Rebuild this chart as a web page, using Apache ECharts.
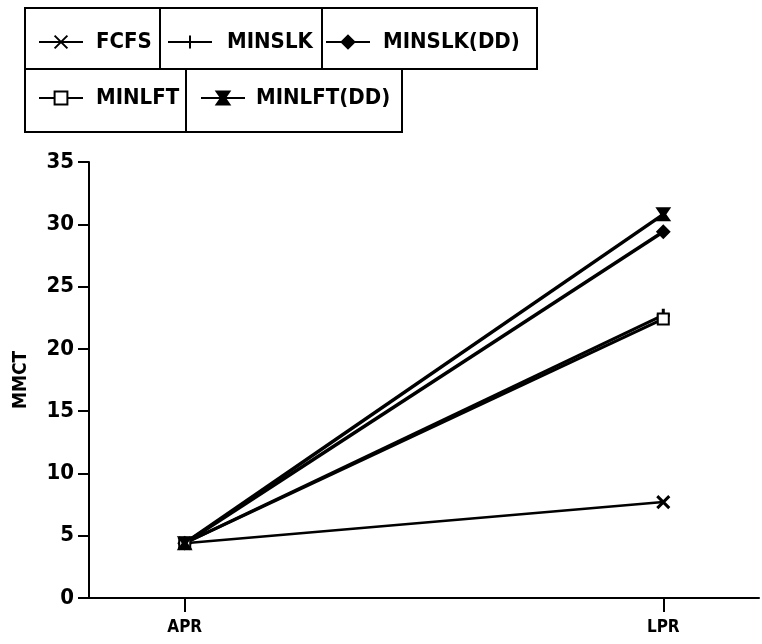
<!DOCTYPE html>
<html><head><meta charset="utf-8">
<script src="https://cdn.jsdelivr.net/npm/echarts@6/dist/echarts.min.js"></script>
<style>html,body{margin:0;padding:0;background:#fff}#c{width:762px;height:644px}</style>
</head><body><div id="c"></div>
<script>
const categories = ['APR', 'LPR'];
const seriesNames = ['FCFS', 'MINSLK', 'MINSLK(DD)', 'MINLFT', 'MINLFT(DD)'];
const FCFS = [4.4, 7.7];
const MINSLK = [4.4, 22.7];
const MINSLK_DD = [4.4, 29.4];
const MINLFT = [4.4, 22.4];
const MINLFT_DD = [4.4, 30.8];
const yTicks = [0, 5, 10, 15, 20, 25, 30, 35];
const yTitle = 'MMCT';

const FONT = "'DejaVu Sans Condensed', 'Liberation Sans Narrow', sans-serif";
const values = [FCFS, MINSLK, MINSLK_DD, MINLFT, MINLFT_DD];
const symbols = [
  'path://M0,0 L10,10 M10,0 L0,10',
  'path://M5,0 L5,10 M0,5 L10,5',
  'diamond',
  'emptyRect',
  'path://M0,0 L10,0 L6.5,5 L10,10 L0,10 L3.5,5 Z'
];
const symSizes = [12, 13, 12, 11, 12];
const lineWidths = [2.5, 3, 3.5, 3, 3.5];

const series = seriesNames.map((name, i) => ({
  name: name,
  type: 'line',
  data: values[i].map((v, j) => [j, v]),
  symbol: symbols[i],
  symbolSize: symSizes[i],
  showAllSymbol: true,
  lineStyle: { color: '#000', width: lineWidths[i] },
  itemStyle: { color: '#000', borderColor: '#000', borderWidth: (i === 0 || i === 1) ? 3 : 2 },
  emphasis: { disabled: true },
  animation: false
}));

const legendPos = [
  { left: 38, top: 42, gap: 8 },
  { left: 167, top: 42, gap: 10 },
  { left: 325, top: 42, gap: 8 },
  { left: 38, top: 98, gap: 8 },
  { left: 200, top: 98, gap: 6 }
];
const legends = seriesNames.map((name, i) => ({
  data: [name],
  left: legendPos[i].left,
  top: legendPos[i].top - 14,
  padding: 0,
  itemWidth: 44,
  itemHeight: 16,
  selectedMode: false,
  textStyle: { fontFamily: FONT, fontWeight: 'bold', fontSize: 22, color: '#000', padding: [0, 0, 0, legendPos[i].gap], lineHeight: 28 },
  lineStyle: { width: 2 }
}));

const boxes = [
  [25, 8, 135, 61], [160, 8, 162, 61], [322, 8, 215, 61],
  [25, 69, 161, 63], [186, 69, 216, 63]
].map(b => ({
  type: 'rect', shape: { x: b[0], y: b[1], width: b[2], height: b[3] },
  style: { fill: 'none', stroke: '#000', lineWidth: 2 }, z: 0
}));

const chart = echarts.init(document.getElementById('c'), null, { renderer: 'canvas' });
chart.setOption({
  backgroundColor: '#fff',
  animation: false,
  legend: legends,
  graphic: boxes,
  grid: { left: 89, right: 3, top: 162, bottom: 46, containLabel: false },
  xAxis: {
    type: 'value', min: -0.2, max: 1.2,
    splitLine: { show: false },
    axisLine: { show: true, onZero: false, lineStyle: { color: '#000', width: 2 } },
    axisTick: { show: true, customValues: [0, 1], length: 14, inside: false, lineStyle: { color: '#000', width: 2 } },
    axisLabel: { customValues: [0, 1], formatter: v => categories[Math.round(v)], fontFamily: FONT, fontWeight: 'bold', fontSize: 17, color: '#000', margin: 21 }
  },
  yAxis: {
    type: 'value', min: 0, max: 35, interval: 5,
    name: yTitle, nameLocation: 'middle', nameRotate: 90, nameGap: 58,
    nameTextStyle: { fontFamily: FONT, fontWeight: 'bold', fontSize: 19, color: '#000' },
    splitLine: { show: false },
    axisLine: { show: true, onZero: false, lineStyle: { color: '#000', width: 2 } },
    axisTick: { show: true, length: 11, lineStyle: { color: '#000', width: 2 } },
    axisLabel: { formatter: v => yTicks.includes(v) ? String(v) : '', fontFamily: FONT, fontWeight: 'bold', fontSize: 22, color: '#000', margin: 15 }
  },
  series: series
});
</script></body></html>
